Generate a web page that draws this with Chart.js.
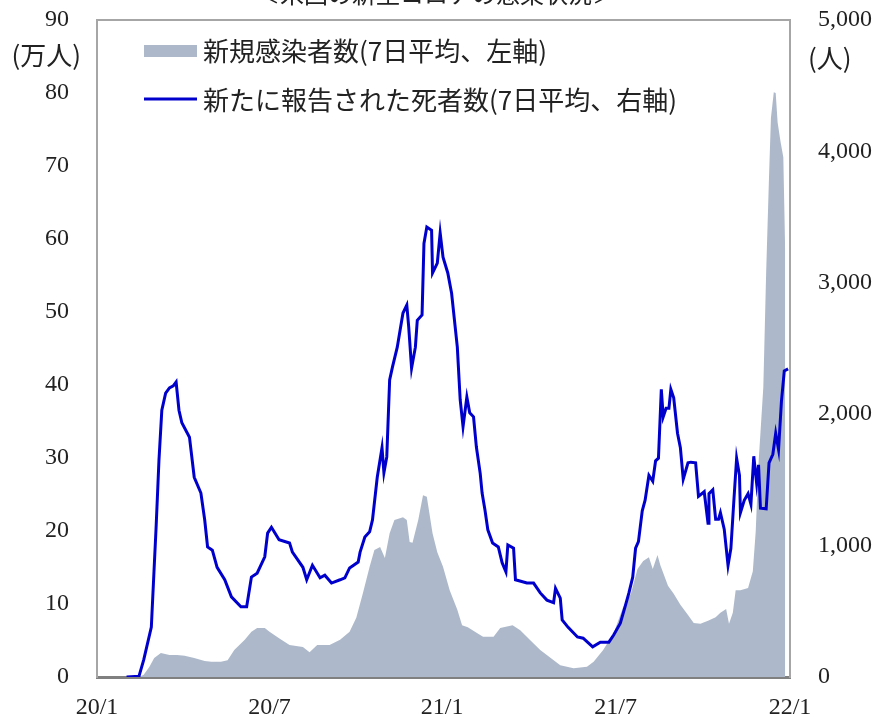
<!DOCTYPE html>
<html>
<head>
<meta charset="utf-8">
<script src="https://cdn.jsdelivr.net/npm/chart.js@4"></script>
<style>
  html, body { margin: 0; padding: 0; background: #fff; }
  #chart { display: block; }
</style>
</head>
<body>
<canvas id="chart" width="873" height="718"></canvas>
<script>
// x = days since start of data (22 Jan 2020)
const tickDays = [0, 181, 362, 544, 727];
const tickLabels = ['20/1', '20/7', '21/1', '21/7', '22/1'];

const seriesLabels = ['新規感染者数(7日平均、左軸)', '新たに報告された死者数(7日平均、右軸)'];

// new cases, 7-day average (10k persons)
const caseDays = [0,44,49,55,60,67,76,84,92,102,113,120,130,137,144,155,162,168,176,181,191,202,216,223,231,244,255,265,272,279,286,291,297,302,307,312,321,325,328,331,337,342,346,352,357,363,370,378,383,389,399,405,416,423,436,444,454,465,476,486,500,514,521,531,542,552,560,567,573,579,583,588,591,599,605,612,620,626,633,641,649,654,660,663,667,670,675,683,688,691,694,699,702,705,707,710,712,714,717,720,722];
const caseValues = [0,0,0.3,1.4,2.6,3.3,3.0,3.0,2.9,2.6,2.2,2.1,2.1,2.3,3.7,5.1,6.2,6.7,6.7,6.2,5.3,4.4,4.1,3.4,4.4,4.4,5.1,6.2,8.1,11.5,15.1,17.4,17.8,16.3,19.7,21.5,21.9,21.5,18.5,18.4,21.5,24.9,24.7,19.7,17.1,15.1,11.9,9.2,7.1,6.8,6.0,5.5,5.5,6.7,7.1,6.4,5.1,3.7,2.6,1.6,1.2,1.4,2.1,3.7,6.0,9.6,11.4,14.8,15.9,16.4,14.8,16.7,15.3,12.5,11.4,9.9,8.5,7.4,7.3,7.7,8.2,8.8,9.3,7.3,8.8,11.9,11.9,12.2,14.5,19.9,29.3,39.7,55.5,68.6,76.6,80.1,80.0,76.0,73.4,71.2,58.0];

// newly reported deaths, 7-day average (persons)
const deathDays = [31,44,49,57,62,65,68,72,76,80,83,86,89,97,102,109,113,116,121,126,134,141,151,157,162,168,176,179,183,191,202,205,216,220,226,234,239,246,255,260,265,274,276,281,286,289,294,299,301,304,307,310,315,318,321,325,327,330,334,336,341,343,346,351,352,357,360,363,368,372,378,381,384,388,391,395,398,402,404,407,410,415,421,425,429,431,437,439,451,458,465,472,479,481,486,488,494,504,510,520,528,537,542,549,554,558,562,565,568,572,575,579,583,586,589,592,594,597,600,602,605,609,612,615,620,623,628,631,637,641,642,646,649,652,654,658,662,665,668,671,674,675,679,683,686,689,692,694,696,702,705,709,712,715,718,721,725];
const deathValues = [0,5,130,380,1140,1650,2030,2160,2200,2215,2245,2030,1935,1825,1520,1400,1195,990,965,835,740,610,535,535,760,790,915,1095,1140,1045,1020,950,835,740,850,755,775,715,740,755,830,875,950,1065,1105,1195,1520,1745,1555,1675,2260,2360,2510,2640,2770,2830,2665,2350,2510,2715,2755,3300,3425,3400,3075,3150,3380,3195,3075,2920,2510,2110,1905,2130,2010,1980,1750,1550,1400,1270,1120,1020,990,870,800,1005,980,740,715,715,640,585,565,675,600,435,380,305,295,230,265,265,320,410,535,640,760,980,1030,1265,1345,1535,1490,1645,1665,2190,1980,2045,2045,2190,2125,1855,1745,1505,1630,1635,1630,1375,1410,1170,1395,1425,1200,1200,1250,1125,850,980,1330,1665,1535,1250,1345,1395,1315,1680,1475,1615,1285,1280,1630,1695,1855,1730,2095,2330,2345];

const areaColor = '#adb9ca';
const lineColor = '#0000cc';
const numFont = { family: "'Liberation Serif', 'DejaVu Serif', serif", size: 24 };
const jpFont = "'Noto Sans CJK JP', sans-serif";

// vertical axes: no extra room for half tick labels, the plot top is fixed by layout padding
function fitVertical(width) {
    return scale => {
        scale.width = width;
        scale.paddingTop = 0;
        scale.paddingBottom = 0;
    };
}

const decorations = {
    id: 'decorations',
    afterDraw(chart) {
        const ctx = chart.ctx;
        const area = chart.chartArea;
        ctx.save();
        // top frame line
        ctx.strokeStyle = '#a6a6a6';
        ctx.lineWidth = 2;
        ctx.beginPath();
        ctx.moveTo(area.left, area.top);
        ctx.lineTo(area.right, area.top);
        ctx.stroke();

        ctx.fillStyle = '#222';
        // title, cut off by the top of the picture
        ctx.font = '24px ' + jpFont;
        ctx.textAlign = 'center';
        ctx.textBaseline = 'middle';
        ctx.fillText('＜米国の新型コロナの感染状況＞', 436, -6);

        // axis units
        ctx.font = '26px ' + jpFont;
        ctx.textAlign = 'right';
        ctx.fillText('(万人)', 81, 55);
        ctx.textAlign = 'left';
        ctx.fillText('(人)', 808, 58);

        // legend
        ctx.fillStyle = areaColor;
        ctx.fillRect(144, 45, 53, 12);
        ctx.strokeStyle = lineColor;
        ctx.lineWidth = 3;
        ctx.beginPath();
        ctx.moveTo(144, 99);
        ctx.lineTo(197, 99);
        ctx.stroke();
        ctx.fillStyle = '#222';
        ctx.font = '26px ' + jpFont;
        ctx.textAlign = 'left';
        ctx.fillText(seriesLabels[0], 203, 51);
        ctx.fillText(seriesLabels[1], 203, 100);
        ctx.restore();
    }
};

new Chart(document.getElementById('chart'), {
    type: 'line',
    data: {
        datasets: [{
            label: seriesLabels[1],
            data: deathDays.map((d, i) => ({ x: d, y: deathValues[i] })),
            yAxisID: 'y1',
            borderColor: lineColor,
            borderWidth: 3,
            pointRadius: 0,
            tension: 0,
            fill: false,
            order: 1
        }, {
            label: seriesLabels[0],
            data: caseDays.map((d, i) => ({ x: d, y: caseValues[i] })),
            yAxisID: 'y',
            backgroundColor: areaColor,
            borderWidth: 0,
            pointRadius: 0,
            tension: 0,
            fill: 'origin',
            order: 2
        }]
    },
    options: {
        responsive: false,
        animation: false,
        layout: { padding: { top: 20, left: 0, right: 0, bottom: 0 } },
        scales: {
            x: {
                type: 'linear',
                min: 0,
                max: 727,
                grid: { display: false },
                border: { color: '#808080', width: 3 },
                afterBuildTicks: scale => { scale.ticks = tickDays.map(v => ({ value: v })); },
                afterFit: scale => {
                    scale.height = 41;
                    scale.paddingLeft = 0;
                    scale.paddingRight = 0;
                },
                ticks: {
                    autoSkip: false,
                    maxRotation: 0,
                    padding: 8,
                    color: '#222',
                    font: numFont,
                    callback: value => tickLabels[tickDays.indexOf(value)]
                }
            },
            y: {
                position: 'left',
                min: 0,
                max: 90,
                grid: { display: false },
                border: { color: '#a6a6a6', width: 2 },
                afterFit: fitVertical(97),
                ticks: { stepSize: 10, padding: 20, color: '#222', font: numFont }
            },
            y1: {
                position: 'right',
                min: 0,
                max: 5000,
                grid: { display: false },
                border: { color: '#a6a6a6', width: 2 },
                afterFit: fitVertical(83),
                ticks: {
                    stepSize: 1000,
                    padding: 20,
                    color: '#222',
                    font: numFont,
                    callback: value => value.toLocaleString('en-US')
                }
            }
        },
        plugins: {
            legend: { display: false },
            tooltip: { enabled: false }
        }
    },
    plugins: [decorations]
});
</script>
</body>
</html>
